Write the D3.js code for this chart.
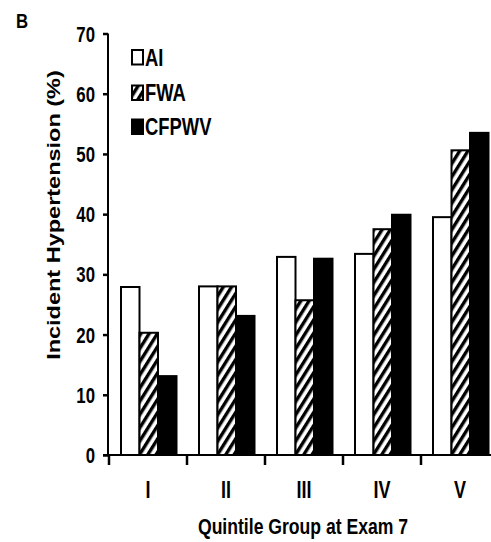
<!DOCTYPE html>
<html>
<head>
<meta charset="utf-8">
<script src="https://cdn.jsdelivr.net/npm/d3@7"></script>
<style>
  html, body { margin: 0; padding: 0; background: #fff; }
  svg { display: block; }
  text { font-family: "Liberation Sans", Arial, sans-serif; font-weight: bold; fill: #000; }
</style>
</head>
<body>
<script>
// Incident hypertension by quintile group at exam 7
const categories = ["I", "II", "III", "IV", "V"];
const seriesNames = ["AI", "FWA", "CFPWV"];
const aiValues = [27.9, 28.0, 32.9, 33.4, 39.5];
const fwaValues = [20.3, 28.0, 25.7, 37.5, 50.6];
const cfpwvValues = [13.1, 23.1, 32.6, 39.9, 53.5];
const yTicks = [0, 10, 20, 30, 40, 50, 60, 70];

const seriesValues = { AI: aiValues, FWA: fwaValues, CFPWV: cfpwvValues };

const W = 491, H = 542;
const svg = d3.select("body").append("svg").attr("width", W).attr("height", H);

// diagonal hatch for the FWA series
const defs = svg.append("defs");
const pat = defs.append("pattern")
  .attr("id", "hatch")
  .attr("patternUnits", "userSpaceOnUse")
  .attr("width", 7).attr("height", 7)
  .attr("patternTransform", "rotate(32)");
pat.append("rect").attr("width", 7).attr("height", 7).attr("fill", "#fff");
pat.append("rect").attr("x", 0).attr("width", 3.4).attr("height", 7).attr("fill", "#000");

const fills = { AI: "#fff", FWA: "url(#hatch)", CFPWV: "#000" };

const x0 = d3.scaleBand().domain(categories).range([108, 498]).paddingInner(0).paddingOuter(0);
const x1 = d3.scaleBand().domain(seriesNames).range([13, 68.5]).padding(0);
const y = d3.scaleLinear().domain([0, 70]).range([455, 33.5]);

// condensed bold text helper (horizontal squeeze)
const SX = 0.8;
function label(g, tx, ty, str, size, anchor, sx) {
  return g.append("text")
    .attr("transform", `translate(${tx},${ty}) scale(${sx === undefined ? SX : sx},1)`)
    .attr("text-anchor", anchor || "start")
    .style("font-size", size + "px")
    .text(str);
}

// bars
const groups = svg.append("g").selectAll("g")
  .data(categories)
  .join("g")
  .attr("transform", d => `translate(${x0(d)},0)`);

groups.selectAll("rect")
  .data((c, i) => seriesNames.map(s => ({ s, v: seriesValues[s][i] })))
  .join("rect")
  .attr("x", d => x1(d.s))
  .attr("y", d => y(d.v))
  .attr("width", x1.bandwidth())
  .attr("height", d => y(0) - y(d.v))
  .attr("fill", d => fills[d.s])
  .attr("stroke", "#000")
  .attr("stroke-width", 2);

// y axis
const yAxis = svg.append("g").attr("transform", "translate(108,0)")
  .call(d3.axisLeft(y).tickValues(yTicks).tickSize(5).tickFormat(""));
yAxis.select(".domain").attr("stroke-width", 2).attr("d", `M0,${y(70)}V${y(0)}`);
yAxis.selectAll(".tick line").attr("stroke-width", 2.5);

const yLab = svg.append("g");
yTicks.forEach(t => {
  label(yLab, 95, y(t) + 8, String(t), 21.5, "end", 0.78);
});

// x axis: baseline with ticks at band boundaries
const bounds = categories.map(c => x0(c)).concat([x0.range()[1]]);
const xAxis = svg.append("g");
xAxis.append("line")
  .attr("x1", 103).attr("x2", W + 10)
  .attr("y1", y(0)).attr("y2", y(0))
  .attr("stroke", "#000").attr("stroke-width", 2);
xAxis.selectAll("line.tk")
  .data(bounds)
  .join("line")
  .attr("class", "tk")
  .attr("x1", d => d + 1).attr("x2", d => d + 1)
  .attr("y1", y(0)).attr("y2", y(0) + 10)
  .attr("stroke", "#000").attr("stroke-width", 2.5);

const xLab = svg.append("g");
categories.forEach(c => {
  label(xLab, x0(c) + x0.bandwidth() / 2 + 1, 498, c, 24, "middle", 0.75);
});

// axis titles
label(svg, 303, 534, "Quintile Group at Exam 7", 22, "middle");
svg.append("text")
  .attr("transform", "translate(60,215) rotate(-90) scale(1,0.8)")
  .attr("text-anchor", "middle")
  .style("font-size", "23.5px")
  .text("Incident Hypertension (%)");

// panel letter
label(svg, 16, 28, "B", 21, "start");

// legend
const legend = svg.append("g");
const legendRows = [{ s: "AI", top: 50 }, { s: "FWA", top: 85.5 }, { s: "CFPWV", top: 119.5 }];
legendRows.forEach(r => {
  legend.append("rect")
    .attr("x", 132).attr("y", r.top)
    .attr("width", 11).attr("height", 14.5)
    .attr("fill", fills[r.s])
    .attr("stroke", "#000").attr("stroke-width", 2);
  label(legend, 145, r.top + 15.5, r.s, 23, "start");
});
</script>
</body>
</html>
